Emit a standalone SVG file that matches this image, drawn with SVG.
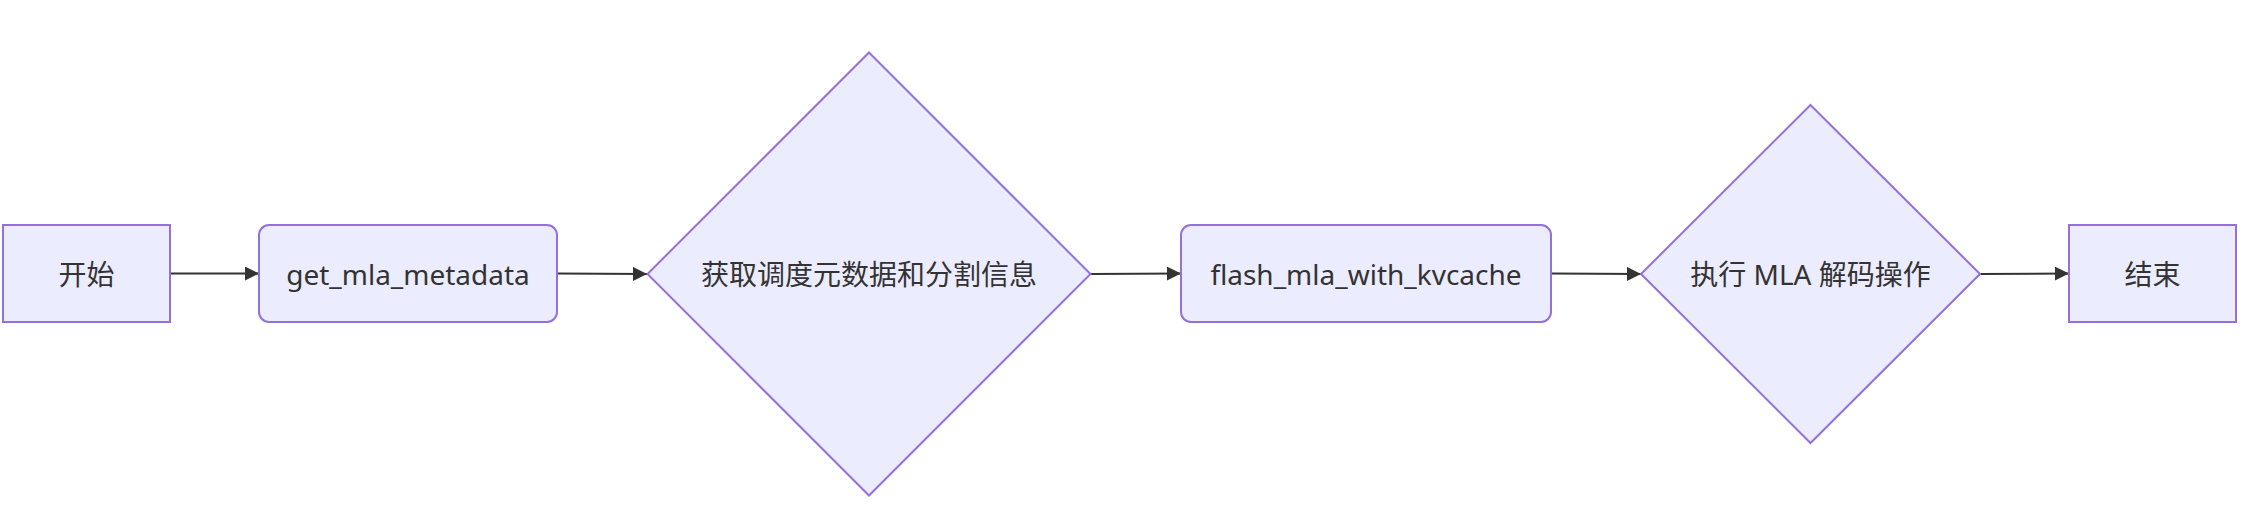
<svg xmlns="http://www.w3.org/2000/svg" width="2250" height="518" viewBox="0 0 2250 518">
<style>
.node{fill:#ECECFF;stroke:#9370DB;stroke-width:2}
.lbl{font-family:"Noto Sans","Noto Sans CJK SC",sans-serif;font-size:28px;fill:#333;text-anchor:middle;dominant-baseline:central}
.edge{stroke:#333;stroke-width:2;fill:none}
</style>
<defs>
<marker id="arr" markerUnits="userSpaceOnUse" viewBox="0 0 10 10" refX="10" refY="5" markerWidth="14" markerHeight="14" orient="auto">
<path d="M0,0 L10,5 L0,10 z" fill="#333"/>
</marker>
</defs>
<rect width="2250" height="518" fill="#ffffff"/>
<g id="connectors">
<line class="edge" x1="170" y1="273.5" x2="259" y2="273.5" marker-end="url(#arr)"/>
<line class="edge" x1="557" y1="273.5" x2="647" y2="274" marker-end="url(#arr)"/>
<line class="edge" x1="1091" y1="274" x2="1181" y2="273.5" marker-end="url(#arr)"/>
<line class="edge" x1="1551" y1="273.5" x2="1641" y2="274" marker-end="url(#arr)"/>
<line class="edge" x1="1980" y1="274" x2="2069" y2="273.5" marker-end="url(#arr)"/>
</g>
<g id="start">
<rect class="node" x="3" y="225" width="167" height="97"/>
<text class="lbl" x="86.5" y="273.5">开始</text>
</g>
<g id="get_mla_metadata">
<rect class="node" x="259" y="225" width="298" height="97" rx="10" ry="10"/>
<text class="lbl" x="408" y="273.5">get_mla_metadata</text>
</g>
<g id="decision1">
<polygon class="node" points="869,52.5 1090.5,274 869,495.5 647.5,274"/>
<text class="lbl" x="869" y="274">获取调度元数据和分割信息</text>
</g>
<g id="flash_mla_with_kvcache">
<rect class="node" x="1181" y="225" width="370" height="97" rx="10" ry="10"/>
<text class="lbl" x="1366" y="273.5">flash_mla_with_kvcache</text>
</g>
<g id="decision2">
<polygon class="node" points="1810.5,105 1980,274 1810.5,443 1641,274"/>
<text class="lbl" x="1810.5" y="274">执行 MLA 解码操作</text>
</g>
<g id="end">
<rect class="node" x="2069" y="225" width="167" height="97"/>
<text class="lbl" x="2152.5" y="273.5">结束</text>
</g>
</svg>
